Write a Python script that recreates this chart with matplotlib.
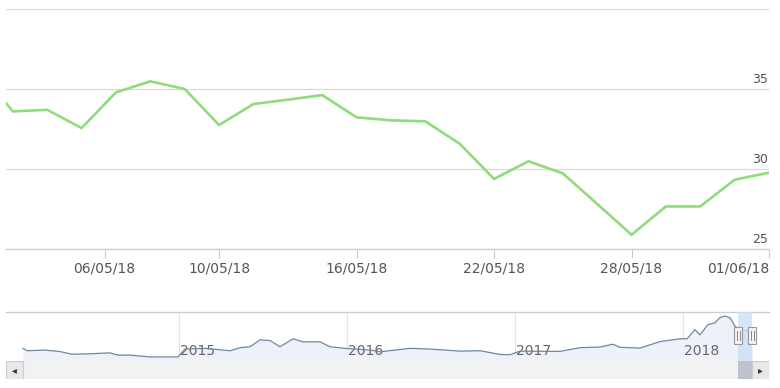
import numpy as np
import pandas as pd
import matplotlib
matplotlib.use('Agg')
import matplotlib.pyplot as plt
import matplotlib.transforms as mtransforms
from matplotlib.patches import Rectangle

# main chart data (trading days, ordinal x axis)
dates = ['01/05/18', '02/05/18', '03/05/18', '04/05/18', '07/05/18', '08/05/18',
         '09/05/18', '10/05/18', '11/05/18', '14/05/18', '15/05/18', '16/05/18',
         '17/05/18', '18/05/18', '21/05/18', '22/05/18', '23/05/18', '24/05/18',
         '25/05/18', '28/05/18', '29/05/18', '30/05/18', '31/05/18', '01/06/18']
prices = [36.2, 33.6, 33.7, 32.56, 34.79, 35.48,
          35.0, 32.75, 34.06, 34.33, 34.62, 33.23,
          33.04, 32.98, 31.58, 29.38, 30.48, 29.73,
          27.82, 25.89, 27.66, 27.66, 29.33, 29.77]
tick_dates = ['06/05/18', '10/05/18', '16/05/18', '22/05/18', '28/05/18', '01/06/18']
y_ticks = [25, 30, 35, 40]
y_labels = ['25', '30', '35', '']

# navigator data (fractional years)
nav_years = [2014.071, 2014.095, 2014.202, 2014.292, 2014.363, 2014.470, 2014.589,
             2014.637, 2014.708, 2014.827, 2014.994, 2015.036, 2015.155, 2015.304,
             2015.363, 2015.423, 2015.482, 2015.542, 2015.601, 2015.679, 2015.738,
             2015.839, 2015.899, 2015.988, 2016.137, 2016.196, 2016.375, 2016.494,
             2016.673, 2016.792, 2016.911, 2016.970, 2017.030, 2017.268, 2017.387,
             2017.506, 2017.583, 2017.625, 2017.744, 2017.863, 2017.982, 2018.024,
             2018.071, 2018.101, 2018.149, 2018.190, 2018.220, 2018.250, 2018.280,
             2018.310, 2018.339, 2018.414]
nav_values = [17.2, 15.4, 15.9, 14.75, 12.8, 13.1, 13.8,
              12.1, 12.1, 10.75, 10.75, 16.7, 17.2, 15.4,
              17.7, 18.4, 23.6, 23.1, 18.4, 24.4, 22.1,
              22.1, 18.4, 17.2, 15.9, 14.6, 17.2, 16.7,
              15.1, 15.4, 12.6, 12.4, 15.1, 14.9, 17.7,
              18.2, 20.3, 18.0, 17.4, 22.3, 24.4, 24.4,
              31.3, 27.4, 35.1, 36.4, 40.3, 41.5, 40.3,
              33.8, 31.3, 29.75]
year_ticks = [2015, 2016, 2017, 2018]

W, H = 780., 388.
def box(x0, y0, x1, y1):
    return [x0/W, 1-y1/H, (x1-x0)/W, (y1-y0)/H]

grey_txt = '#555555'
grid_col = '#d9d9d9'

fig = plt.figure(figsize=(W/100, H/100), dpi=100)

# ---- main chart
ax = fig.add_axes(box(6, 9, 769, 249))
dt = pd.to_datetime(dates, format='%d/%m/%y')
idx = np.arange(len(dates))
tdt = pd.to_datetime(tick_dates, format='%d/%m/%y')
tick_pos = np.interp(tdt.asi8, dt.asi8, idx)

ax.plot(idx, prices, color='#90db7c', lw=1.9, solid_joinstyle='miter')
ax.set_xlim(0.8, idx[-1]) ; ax.set_ylim(25, 40)
for v, lab in zip(y_ticks, y_labels):
    ax.axhline(v, color=grid_col, lw=0.9, zorder=0)
    if lab:
        ax.annotate(lab, xy=(1.0, v), xycoords=ax.get_yaxis_transform(),
                    xytext=(-1, 2), textcoords='offset points',
                    ha='right', va='bottom', fontsize=9, color=grey_txt)
ax.set_yticks([])
ax.set_xticks(tick_pos, tick_dates)
ax.tick_params(axis='x', length=6.5, width=0.8, color='#cccccc', pad=2.5,
               labelsize=10, labelcolor=grey_txt)
ax.get_xticklabels()[-1].set_horizontalalignment('right')
for s in ['top', 'left', 'right']:
    ax.spines[s].set_visible(False)
ax.spines['bottom'].set_color('#cccccc') ; ax.spines['bottom'].set_linewidth(0.9)

# ---- navigator
d0 = dt[0] ; d1 = dt[-1]
m0 = d0.year + (d0.dayofyear - 1)/365.
m1 = d1.year + (d1.dayofyear - 1)/365.
xl = (2013.970, 2018.512)
vmin, vmax = min(nav_values), max(nav_values)
span = vmax - vmin

axn = fig.add_axes(box(6, 312, 769, 361))
axn.set_xlim(*xl) ; axn.set_ylim(vmin - 0.1*span, vmax + 0.1*span)
axn.fill_between(nav_years, nav_values, vmin - 0.1*span, color='#eef2f8', lw=0, zorder=1)
axn.plot(nav_years, nav_values, color='#6f87a0', lw=0.9, zorder=3)
for yr in year_ticks:
    axn.axvline(yr, color='#e3e3e3', lw=0.9, zorder=0)
    axn.annotate(str(yr), xy=(yr, 0.2), xycoords=axn.get_xaxis_transform(),
                 xytext=(1, 0), textcoords='offset points',
                 ha='left', va='center', fontsize=10, color='#666666', zorder=2)
axn.axvspan(m0, m1, color='#cde0f6', alpha=0.8, lw=0, zorder=4)
for s in ['bottom', 'left', 'right']:
    axn.spines[s].set_visible(False)
axn.spines['top'].set_color('#cccccc') ; axn.spines['top'].set_linewidth(0.9)
axn.set_xticks([]) ; axn.set_yticks([])
axn.patch.set_alpha(0)

# handles
hw = 8.0/168 ; trans = mtransforms.blended_transform_factory(axn.transData, axn.transAxes)
for m in [m0, m1]:
    axn.add_patch(Rectangle((m - hw/2, 0.34), hw, 0.35, transform=trans,
                            facecolor='#f2f2f2', edgecolor='#999999', lw=0.8,
                            zorder=6, clip_on=False))
    for dx in [-0.25, 0.25]:
        axn.plot([m + dx*hw*0.8]*2, [0.42, 0.61], transform=trans,
                 color='#888888', lw=0.7, zorder=7, clip_on=False)

# ---- scrollbar
axs = fig.add_axes(box(6, 361, 769, 379))
axs.set_xlim(*xl) ; axs.set_ylim(0, 1)
axs.patch.set_facecolor('#f2f2f2')
axs.axvspan(m0, m1, color='#bcc3cc', lw=0)
bw = 17.0/763
axs.add_patch(Rectangle((0, 0), bw, 1, transform=axs.transAxes,
                        facecolor='#e8e8e8', edgecolor='#cccccc', lw=0.8))
axs.add_patch(Rectangle((1 - bw, 0), bw, 1, transform=axs.transAxes,
                        facecolor='#e8e8e8', edgecolor='#cccccc', lw=0.8))
axs.text(bw/2, 0.5, '\u25c2', transform=axs.transAxes, ha='center', va='center',
         fontsize=7, color='#333333')
axs.text(1 - bw/2, 0.5, '\u25b8', transform=axs.transAxes, ha='center', va='center',
         fontsize=7, color='#333333')
for s in axs.spines.values():
    s.set_visible(False)
axs.set_xticks([]) ; axs.set_yticks([])

fig.savefig('out.png', dpi=100)
